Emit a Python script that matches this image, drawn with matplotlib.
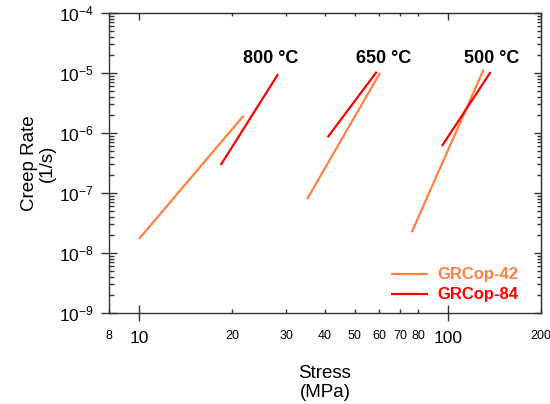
import numpy as np
import matplotlib
matplotlib.use("Agg")
import matplotlib.pyplot as plt
from matplotlib.ticker import FixedLocator, FixedFormatter, LogLocator, NullFormatter

plt.rcParams['font.family'] = ['Liberation Sans', 'DejaVu Sans']
plt.rcParams['mathtext.fontset'] = 'custom'
plt.rcParams['mathtext.rm'] = 'Liberation Sans'
plt.rcParams['mathtext.it'] = 'Liberation Sans:italic'
plt.rcParams['mathtext.bf'] = 'Liberation Sans:bold'

# ---- data (stress in MPa, creep rate in 1/s) ----
temps = ["800 °C", "650 °C", "500 °C"]
grcop42_stress = [[10.0, 21.8], [35.0, 60.3], [76.3, 130.5]]
grcop42_rate = [[1.71e-8, 1.94e-6], [7.9e-8, 1.01e-5], [2.21e-8, 1.15e-5]]
grcop84_stress = [[18.4, 28.2], [40.8, 58.8], [95.6, 137.4]]
grcop84_rate = [[2.93e-7, 9.6e-6], [8.5e-7, 1.05e-5], [6.07e-7, 1.04e-5]]
series_names = ["GRCop-42", "GRCop-84"]
series_colors = ["#FF8040", "#FF0000"]

x_major = [10, 100]
x_major_labels = ["10", "100"]
x_minor = [8, 20, 30, 40, 50, 60, 70, 80, 200]
x_minor_labels = ["8", "20", "30", "40", "50", "60", "70", "80", "200"]

fig = plt.figure(figsize=(5.5, 4.04), dpi=100)
ax = fig.add_axes([109/550, 1-313/404, 432/550, 300/404])

for i in range(3):
    ax.plot(grcop42_stress[i], grcop42_rate[i], color=series_colors[0], lw=1.6,
            solid_capstyle='butt', label=series_names[0] if i == 0 else None)
    ax.plot(grcop84_stress[i], grcop84_rate[i], color=series_colors[1], lw=1.6,
            solid_capstyle='butt', label=series_names[1] if i == 0 else None)

ax.set_xscale('log')
ax.set_yscale('log')
ax.set_xlim(8, 200)
ax.set_ylim(1e-9, 1e-4)

spine_col = '#333333'
for s in ax.spines.values():
    s.set_color(spine_col)
    s.set_linewidth(1.0)

ax.xaxis.set_major_locator(FixedLocator(x_major))
ax.xaxis.set_major_formatter(FixedFormatter(x_major_labels))
ax.xaxis.set_minor_locator(FixedLocator(x_minor))
ax.xaxis.set_minor_formatter(FixedFormatter(x_minor_labels))

ax.yaxis.set_major_locator(LogLocator(base=10, numticks=10))
ax.yaxis.set_major_formatter(matplotlib.ticker.FuncFormatter(
    lambda v, p: r'$10^{%d}$' % int(round(np.log10(v)))))
ax.yaxis.set_minor_locator(LogLocator(base=10, subs=np.arange(2, 10), numticks=20))
ax.yaxis.set_minor_formatter(NullFormatter())

ax.tick_params(axis='x', which='major', direction='inout', length=12, width=1,
               color=spine_col, labelsize=12.5, pad=7)
ax.tick_params(axis='x', which='minor', direction='in', length=3, width=1,
               color=spine_col, labelsize=9, pad=12)
ax.tick_params(axis='y', which='major', direction='inout', length=12, width=1,
               color=spine_col, labelsize=12.5, pad=5)
ax.tick_params(axis='y', which='minor', direction='in', length=3.5, width=1,
               color=spine_col)

# top / right ticks (inward only)
sx = ax.secondary_xaxis('top')
sx.set_xscale('log')
sx.xaxis.set_major_locator(FixedLocator(x_major))
sx.xaxis.set_minor_locator(FixedLocator(x_minor))
sx.tick_params(which='major', direction='in', length=5, width=1, color=spine_col,
               labeltop=False)
sx.tick_params(which='minor', direction='in', length=2.5, width=1, color=spine_col)
sx.spines['top'].set_color(spine_col)

sy = ax.secondary_yaxis('right')
sy.set_yscale('log')
sy.yaxis.set_major_locator(LogLocator(base=10, numticks=10))
sy.yaxis.set_minor_locator(LogLocator(base=10, subs=np.arange(2, 10), numticks=20))
sy.tick_params(which='major', direction='in', length=5, width=1, color=spine_col,
               labelright=False)
sy.tick_params(which='minor', direction='in', length=3, width=1, color=spine_col)
sy.yaxis.set_minor_formatter(NullFormatter())
sy.spines['right'].set_color(spine_col)

ax.set_xlabel("Stress\n(MPa)", fontsize=13.5, labelpad=14, linespacing=1.15)
ax.set_ylabel("Creep Rate\n(1/s)", fontsize=13.5, labelpad=2, linespacing=1.05)

label_x = [26.7, 61.7, 138.8]
for t, xx in zip(temps, label_x):
    ax.text(xx, 10**-4.833, t, ha='center', va='baseline', fontsize=13,
            fontweight='bold', color='black')

leg = ax.legend(loc='lower right', bbox_to_anchor=(0.947, 0.035), borderaxespad=0,
                borderpad=0, frameon=False, labelcolor='linecolor',
                prop={'weight': 'bold', 'size': 12}, handlelength=2.2,
                handletextpad=0.55, labelspacing=0.3)

fig.savefig("out.png", dpi=100)
